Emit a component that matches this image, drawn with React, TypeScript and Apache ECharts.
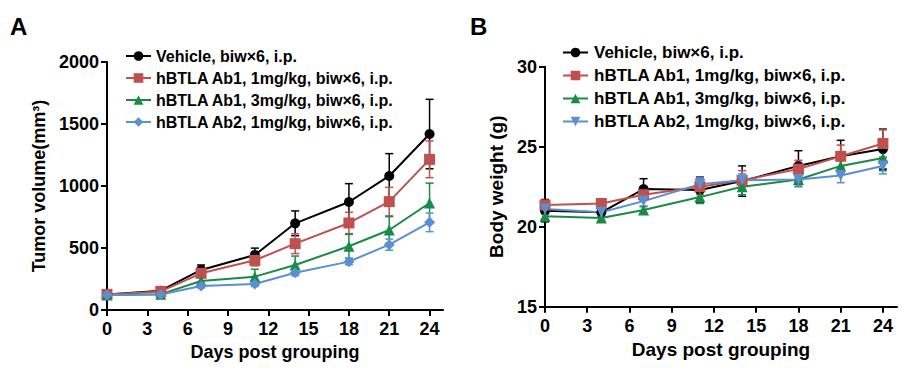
import React, { useEffect, useRef } from "react";
import * as echarts from "echarts";

const DAYS = [0, 4, 7, 11, 14, 18, 21, 24];
const X_TICKS = [0, 3, 6, 9, 12, 15, 18, 21, 24];
const NAMES = [
  "Vehicle, biw×6, i.p.",
  "hBTLA Ab1, 1mg/kg, biw×6, i.p.",
  "hBTLA Ab1, 3mg/kg, biw×6, i.p.",
  "hBTLA Ab2, 1mg/kg, biw×6, i.p.",
];
const COLORS = ["#000000", "#C0504D", "#1A8A47", "#5A8FD3"];

// Panel A: tumor volume (mm3)
const TV_VEHICLE = [126, 156, 323, 444, 699, 871, 1081, 1419];
const TV_VEHICLE_ERR = [10, 15, 40, 55, 100, 148, 180, 280];
const TV_AB1_1 = [126, 150, 296, 401, 535, 702, 874, 1215];
const TV_AB1_1_ERR = [10, 12, 35, 45, 80, 86, 115, 148];
const TV_AB1_3 = [120, 128, 234, 269, 363, 514, 645, 863];
const TV_AB1_3_ERR = [8, 10, 30, 60, 72, 96, 108, 160];
const TV_AB2 = [120, 125, 194, 210, 301, 390, 527, 707];
const TV_AB2_ERR = [8, 10, 15, 20, 25, 25, 45, 75];

// Panel B: body weight (g)
const BW_VEHICLE = [21.0, 20.9, 22.35, 22.3, 22.85, 23.8, 24.4, 24.85];
const BW_VEHICLE_ERR = [0.7, 0.3, 0.65, 0.8, 0.95, 0.95, 1.0, 1.25];
const BW_AB1_1 = [21.35, 21.45, 22.0, 22.5, 22.9, 23.6, 24.4, 25.2];
const BW_AB1_1_ERR = [0.3, 0.2, 0.35, 0.5, 0.6, 0.55, 0.7, 0.85];
const BW_AB1_3 = [20.65, 20.55, 21.05, 21.85, 22.5, 22.95, 23.8, 24.3];
const BW_AB1_3_ERR = [0.2, 0.2, 0.2, 0.4, 0.5, 0.45, 0.5, 0.8];
const BW_AB2 = [21.1, 20.9, 21.6, 22.65, 22.9, 22.95, 23.2, 23.8];
const BW_AB2_ERR = [0.3, 0.3, 0.3, 0.4, 0.4, 0.4, 0.45, 0.5];

const FONT = "'Liberation Sans', Arial, sans-serif";

type PanelCfg = {
  letter: string;
  grid: { left: number; top: number; width: number; height: number };
  yMin: number;
  yMax: number;
  yInterval: number;
  yName: string;
  yNameGap: number;
  xNameGap: number;
  nameSize: number;
  legendLeft: number;
  legendTop: number;
  legendPad: number;
  legendSize: number;
  values: number[][];
  errs: number[][];
  symbols: string[];
  rotates: number[];
  sizes: number[];
};

function buildOption(cfg: PanelCfg) {
  const series: any[] = [];
  cfg.values.forEach((vals, i) => {
    const errs = cfg.errs[i];
    series.push({
      type: "custom",
      name: NAMES[i] + "_err",
      z: 3,
      silent: true,
      data: DAYS.map((d, k) => [d, vals[k], errs[k]]),
      encode: { x: 0, y: 1 },
      renderItem: (params: any, api: any) => {
        const x = api.value(0);
        const y = api.value(1);
        const e = api.value(2);
        const top = api.coord([x, y + e]);
        const bot = api.coord([x, y - e]);
        const hw = 4;
        const style = { stroke: COLORS[i], lineWidth: 1.5, fill: "none" };
        return {
          type: "group",
          children: [
            { type: "line", shape: { x1: top[0], y1: top[1], x2: bot[0], y2: bot[1] }, style },
            { type: "line", shape: { x1: top[0] - hw, y1: top[1], x2: top[0] + hw, y2: top[1] }, style },
            { type: "line", shape: { x1: bot[0] - hw, y1: bot[1], x2: bot[0] + hw, y2: bot[1] }, style },
          ],
        };
      },
    });
  });
  cfg.values.forEach((vals, i) => {
    series.push({
      type: "line",
      name: NAMES[i],
      z: 4,
      data: DAYS.map((d, k) => [d, vals[k]]),
      symbol: cfg.symbols[i],
      symbolRotate: cfg.rotates[i],
      symbolSize: cfg.sizes[i],
      showAllSymbol: true,
      lineStyle: { color: COLORS[i], width: 2 },
      itemStyle: { color: COLORS[i] },
    });
  });

  const labelStyle = { color: "#000", fontFamily: FONT, fontWeight: "bold" as const, fontSize: 18 };
  const nameStyle = { ...labelStyle, fontSize: cfg.nameSize };

  return {
    animation: false,
    backgroundColor: "#ffffff",
    graphic: [
      {
        type: "text",
        left: 10,
        top: 14,
        style: { text: cfg.letter, font: `bold 24px ${FONT}`, fill: "#000" },
      },
    ],
    legend: {
      data: NAMES,
      orient: "vertical",
      left: cfg.legendLeft,
      top: cfg.legendTop,
      itemWidth: 25,
      itemHeight: 12,
      itemGap: 6,
      textStyle: {
        color: "#000",
        fontFamily: FONT,
        fontWeight: "bold",
        fontSize: cfg.legendSize,
        lineHeight: 16,
        padding: [0, 0, 0, cfg.legendPad],
      },
    },
    grid: { ...cfg.grid, containLabel: false },
    xAxis: {
      type: "value",
      min: 0,
      max: 25,
      name: "Days post grouping",
      nameLocation: "middle",
      nameGap: cfg.xNameGap,
      nameTextStyle: nameStyle,
      axisLine: { lineStyle: { color: "#000", width: 2 } },
      axisTick: { show: true, customValues: X_TICKS, length: 6, lineStyle: { color: "#000", width: 2 } },
      axisLabel: { ...labelStyle, customValues: X_TICKS, margin: 10 },
      splitLine: { show: false },
    },
    yAxis: {
      type: "value",
      min: cfg.yMin,
      max: cfg.yMax,
      interval: cfg.yInterval,
      name: cfg.yName,
      nameLocation: "middle",
      nameGap: cfg.yNameGap,
      nameTextStyle: nameStyle,
      axisLine: { show: true, lineStyle: { color: "#000", width: 2 } },
      axisTick: { show: true, length: 6, lineStyle: { color: "#000", width: 2 } },
      axisLabel: { ...labelStyle, margin: 8, formatter: (v: number) => String(v) },
      splitLine: { show: false },
    },
    series,
  };
}

const PANEL_A: PanelCfg = {
  letter: "A",
  grid: { left: 107, top: 62, width: 336, height: 248 },
  yMin: 0,
  yMax: 2000,
  yInterval: 500,
  yName: "Tumor volume(mm³)",
  yNameGap: 56,
  xNameGap: 31,
  nameSize: 18,
  legendLeft: 120,
  legendTop: 43,
  legendPad: 0,
  legendSize: 16,
  values: [TV_VEHICLE, TV_AB1_1, TV_AB1_3, TV_AB2],
  errs: [TV_VEHICLE_ERR, TV_AB1_1_ERR, TV_AB1_3_ERR, TV_AB2_ERR],
  symbols: ["circle", "rect", "triangle", "diamond"],
  rotates: [0, 0, 0, 0],
  sizes: [10, 11, 11, 11],
};

const PANEL_B: PanelCfg = {
  letter: "B",
  grid: { left: 85, top: 66.7, width: 352, height: 240 },
  yMin: 15,
  yMax: 30,
  yInterval: 5,
  yName: "Body weight (g)",
  yNameGap: 39,
  xNameGap: 31,
  nameSize: 19,
  legendLeft: 97,
  legendTop: 39,
  legendPad: 1,
  legendSize: 17,
  values: [BW_VEHICLE, BW_AB1_1, BW_AB1_3, BW_AB2],
  errs: [BW_VEHICLE_ERR, BW_AB1_1_ERR, BW_AB1_3_ERR, BW_AB2_ERR],
  symbols: ["circle", "rect", "triangle", "triangle"],
  rotates: [0, 0, 0, 180],
  sizes: [10, 11, 11, 11],
};

function Panel({ cfg, left, width }: { cfg: PanelCfg; left: number; width: number }) {
  const ref = useRef<HTMLDivElement>(null);
  useEffect(() => {
    if (!ref.current) return;
    const chart = echarts.init(ref.current, undefined, { renderer: "svg" });
    chart.setOption(buildOption(cfg) as any);
    return () => chart.dispose();
  }, [cfg]);
  return (
    <div
      ref={ref}
      style={{ position: "absolute", left, top: 0, width, height: 372 }}
    />
  );
}

export default function App() {
  return (
    <div style={{ position: "fixed", left: 0, top: 0, width: 909, height: 372, background: "#fff" }}>
      <Panel cfg={PANEL_A} left={0} width={460} />
      <Panel cfg={PANEL_B} left={460} width={449} />
    </div>
  );
}
